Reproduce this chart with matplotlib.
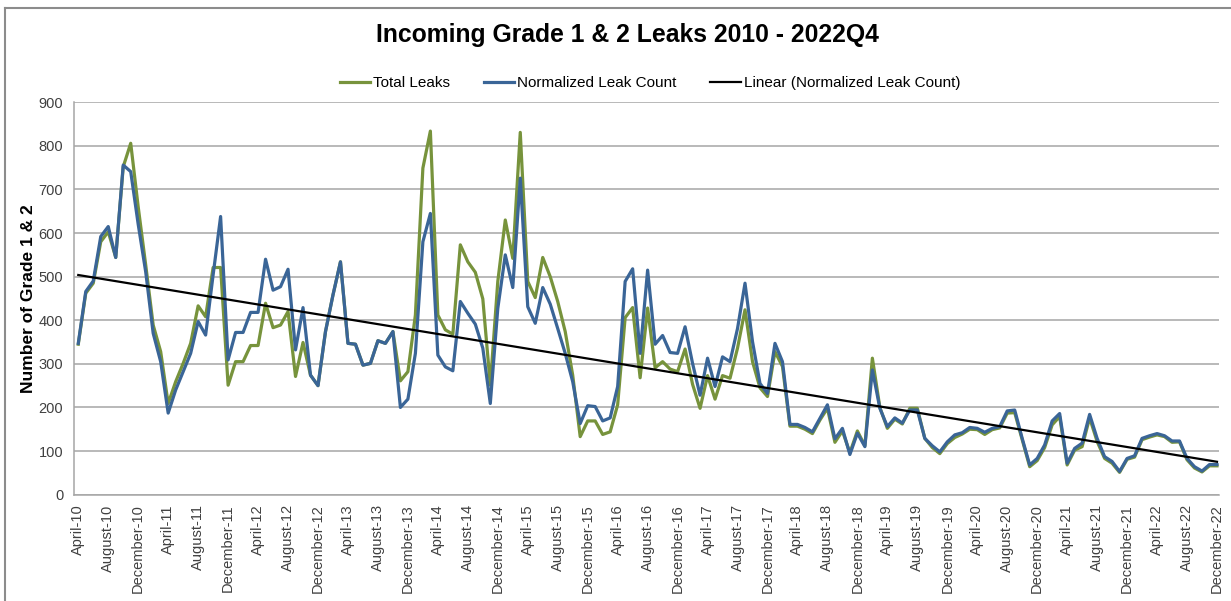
import matplotlib.pyplot as plt
import numpy as np
from matplotlib.lines import Line2D

# monthly data, April 2010 .. December 2022
month_names = ['January', 'February', 'March', 'April', 'May', 'June', 'July',
               'August', 'September', 'October', 'November', 'December']
start_year, start_month = 2010, 4

total_leaks = [
    345, 462, 485, 580, 603, 544, 752, 806, 660, 527, 389, 328,
    209, 259, 301, 347, 433, 408, 521, 521, 251, 305, 305, 342,
    342, 439, 383, 389, 420, 271, 349, 274, 250, 374, 458, 534,
    347, 345, 297, 301, 353, 347, 374, 261, 282, 412, 749, 834,
    412, 378, 368, 573, 534, 510, 449, 251, 489, 630, 542, 831,
    489, 452, 544, 500, 443, 374, 274, 133, 169, 169, 138, 144,
    206, 406, 429, 268, 428, 291, 305, 288, 282, 334, 253, 198,
    273, 219, 273, 267, 336, 424, 305, 245, 225, 328, 294, 157,
    157, 150, 140, 171, 198, 120, 146, 96, 146, 112, 313, 200,
    152, 173, 162, 198, 198, 129, 108, 94, 117, 131, 139, 150,
    149, 138, 149, 153, 187, 188, 126, 64, 78, 108, 160, 179,
    68, 102, 110, 176, 122, 83, 72, 51, 81, 86, 126, 132,
    137, 133, 120, 121, 80, 61, 52, 66, 66,
]

normalized = [
    347, 466, 490, 592, 615, 544, 756, 741, 620, 511, 370, 305,
    187, 240, 282, 324, 397, 366, 504, 638, 309, 372, 372, 418,
    418, 540, 469, 477, 517, 332, 429, 274, 250, 374, 458, 534,
    347, 345, 297, 301, 353, 347, 374, 200, 219, 324, 580, 645,
    320, 293, 284, 443, 416, 391, 336, 209, 427, 550, 475, 726,
    431, 393, 475, 437, 381, 324, 259, 163, 204, 202, 169, 176,
    248, 489, 518, 324, 515, 345, 365, 326, 324, 385, 301, 228,
    313, 248, 316, 305, 381, 485, 351, 255, 232, 347, 305, 161,
    161, 154, 144, 175, 206, 128, 152, 92, 141, 110, 286, 198,
    156, 176, 164, 194, 194, 129, 112, 98, 121, 137, 142, 154,
    152, 143, 152, 156, 192, 194, 129, 68, 83, 114, 169, 186,
    72, 106, 118, 184, 129, 87, 76, 53, 83, 89, 129, 135,
    140, 135, 123, 123, 83, 64, 54, 69, 69,
]

n = len(normalized)
labels = []
for k in range(n):
    m = (start_month - 1 + k) % 12
    y = start_year + (start_month - 1 + k) // 12
    labels.append(f"{month_names[m]}-{y % 100:02d}")

x = np.arange(n)
coef = np.polyfit(x, normalized, 1)
trend = np.polyval(coef, x)

green = '#77933C'
blue = '#3A6597'
grid_c = '#A6A6A6'

plt.rcParams['font.family'] = ['Liberation Sans', 'DejaVu Sans']

fig = plt.figure(figsize=(12.31, 6.01), dpi=100)
ax = fig.add_axes([74.3 / 1231, 1 - 494.6 / 601, (1219 - 74.3) / 1231, (494.6 - 102.3) / 601])

ax.plot(x, total_leaks, color=green, lw=2.3, label='Total Leaks', solid_joinstyle='round')
ax.plot(x, normalized, color=blue, lw=2.3, label='Normalized Leak Count', solid_joinstyle='round')
ax.plot(x, trend, color='black', lw=1.6, label='Linear (Normalized Leak Count)')

ax.set_ylim(0, 900)
ax.set_yticks(range(0, 901, 100))
ax.set_xlim(-0.53, n - 1 + 0.27)
ax.set_xticks(x[::4])
ax.set_xticklabels(labels[::4], rotation=90, fontsize=10.5, color='#404040')
ax.tick_params(axis='y', labelsize=10.5, labelcolor='#404040', length=0, pad=8)
ax.tick_params(axis='x', length=0, pad=7)

ax.grid(axis='y', color=grid_c, lw=1.1)
ax.set_axisbelow(True)
for s in ['top', 'right']:
    ax.spines[s].set_visible(False)
ax.spines['left'].set_color(grid_c)
ax.spines['bottom'].set_color(grid_c)
ax.spines['left'].set_linewidth(1.1)
ax.spines['bottom'].set_linewidth(1.1)

ax.set_ylabel('Number of Grade 1 & 2', fontsize=12.5, fontweight='bold', labelpad=2)

fig.text(0.51, 1 - 35 / 601, 'Incoming Grade 1 & 2 Leaks 2010 - 2022Q4',
         ha='center', va='center', fontsize=17.8, fontweight='bold')

fig.legend(loc='center', bbox_to_anchor=(0.528, 1 - 83 / 601), ncol=3, frameon=False,
           fontsize=11, handlelength=2.0, handletextpad=0.2, columnspacing=2.2)

# chart border
fig.add_artist(Line2D([5 / 1231, 5 / 1231], [0, 1 - 8 / 601], transform=fig.transFigure,
                      color='#8C8C8C', lw=1.5))
fig.add_artist(Line2D([5 / 1231, 1], [1 - 8 / 601, 1 - 8 / 601], transform=fig.transFigure,
                      color='#8C8C8C', lw=1.5))

fig.savefig('out.png', dpi=100)
